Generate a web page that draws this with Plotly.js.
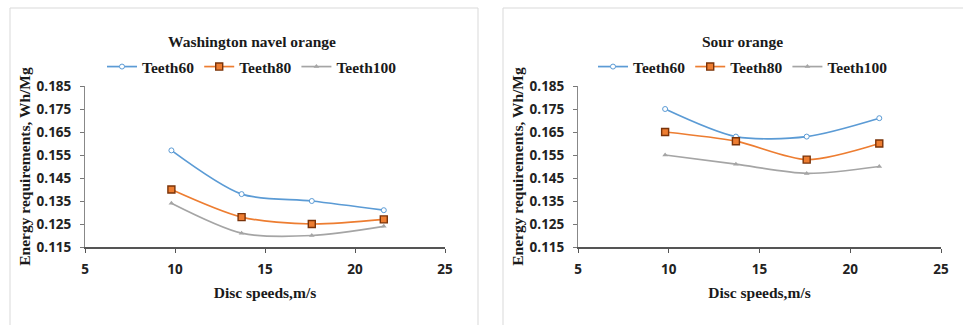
<!DOCTYPE html>
<html>
<head>
<meta charset="utf-8">
<script src="https://cdn.plot.ly/plotly-3.0.1.min.js"></script>
<style>html,body{margin:0;padding:0;background:#fff;}#chart{width:963px;height:325px;}</style>
</head>
<body>
<div id="chart"></div>
<script>
// Data
const discSpeeds = [9.8, 13.7, 17.6, 21.6];
const seriesNames = ["Teeth60", "Teeth80", "Teeth100"];
const washingtonTeeth60 = [0.157, 0.138, 0.135, 0.131];
const washingtonTeeth80 = [0.140, 0.128, 0.125, 0.127];
const washingtonTeeth100 = [0.134, 0.121, 0.120, 0.124];
const sourTeeth60 = [0.175, 0.163, 0.163, 0.171];
const sourTeeth80 = [0.165, 0.161, 0.153, 0.160];
const sourTeeth100 = [0.155, 0.151, 0.147, 0.150];
const panelTitles = ["Washington navel orange", "Sour orange"];
const xTickVals = [5, 10, 15, 20, 25];
const yTickVals = [0.115, 0.125, 0.135, 0.145, 0.155, 0.165, 0.175, 0.185];
const xTitle = "Disc speeds,m/s";
const yTitle = "Energy requirements, Wh/Mg";

const colors = ["#5B9BD5", "#ED7D31", "#A5A5A5"];
const markers = [
  {symbol: "circle", size: 5, color: "#ffffff", line: {color: "#5B9BD5", width: 1}},
  {symbol: "square", size: 7, color: "#ED7D31", line: {color: "#7a3309", width: 1.4}},
  {symbol: "triangle-up", size: 5, color: "#A5A5A5", line: {color: "#A5A5A5", width: 0}}
];

function makeTraces(values, xa, ya, legendName) {
  return values.map((v, i) => ({
    x: discSpeeds, y: v, type: "scatter", mode: "lines+markers",
    name: seriesNames[i], xaxis: xa, yaxis: ya, legend: legendName,
    line: {color: colors[i], width: 1.7, shape: "spline", smoothing: 0.8},
    marker: markers[i]
  }));
}

const traces = [
  ...makeTraces([washingtonTeeth60, washingtonTeeth80, washingtonTeeth100], "x", "y", "legend"),
  ...makeTraces([sourTeeth60, sourTeeth80, sourTeeth100], "x2", "y2", "legend2")
];

const tickFont = {family: "Open Sans, Liberation Sans, sans-serif", size: 13.5, color: "#222", weight: "bold"};
const serifBold = {family: "Liberation Serif, Times New Roman, serif", size: 15.5, color: "#1a1a1a", weight: "bold"};

function xAxis(domain, anchor) {
  return {
    domain: domain, anchor: anchor, range: [5, 25], tickvals: xTickVals,
    ticks: "outside", ticklen: 4, tickcolor: "#555", tickwidth: 1, ticklabelstandoff: 5,
    showline: true, linecolor: "#555", linewidth: 2, showgrid: false, zeroline: false,
    tickfont: tickFont,
    title: {text: xTitle, font: serifBold, standoff: 10}
  };
}
function yAxis(anchor) {
  return {
    domain: [78/325, 239/325], anchor: anchor, range: [0.115, 0.185], tickvals: yTickVals,
    tickformat: ".3f",
    ticks: "outside", ticklen: 4, tickcolor: "#777", tickwidth: 1, ticklabelstandoff: 6,
    showline: true, linecolor: "#888", linewidth: 1, showgrid: false, zeroline: false,
    tickfont: tickFont,
    title: {text: yTitle, font: serifBold, standoff: 2}
  };
}

const legendBase = {
  orientation: "h", xanchor: "center", yanchor: "middle",
  font: serifBold, bgcolor: "rgba(0,0,0,0)", itemwidth: 30, tracegroupgap: 0
};

const layout = {
  width: 963, height: 325,
  margin: {l: 0, r: 0, t: 0, b: 0},
  paper_bgcolor: "#fff", plot_bgcolor: "#fff",
  showlegend: true,
  xaxis: xAxis([85/963, 445/963], "y"),
  yaxis: yAxis("x"),
  xaxis2: xAxis([578/963, 941/963], "y2"),
  yaxis2: yAxis("x2"),
  legend: Object.assign({x: 252/963, y: (325-67)/325}, legendBase),
  legend2: Object.assign({x: 743/963, y: (325-67)/325}, legendBase),
  annotations: [
    {text: panelTitles[0], xref: "paper", yref: "paper", x: 252/963, y: (325-41)/325, showarrow: false, font: serifBold, xanchor: "center", yanchor: "middle"},
    {text: panelTitles[1], xref: "paper", yref: "paper", x: 742/963, y: (325-41)/325, showarrow: false, font: serifBold, xanchor: "center", yanchor: "middle"}
  ],
  shapes: [
    {type: "rect", xref: "paper", yref: "paper", x0: 10/963, x1: 478/963, y0: -0.02, y1: (325-8)/325, line: {color: "#d9d9d9", width: 1}},
    {type: "rect", xref: "paper", yref: "paper", x0: 503/963, x1: 1.02, y0: -0.02, y1: (325-8)/325, line: {color: "#d9d9d9", width: 1}}
  ]
};

Plotly.newPlot("chart", traces, layout, {displayModeBar: false, staticPlot: true});
</script>
</body>
</html>
